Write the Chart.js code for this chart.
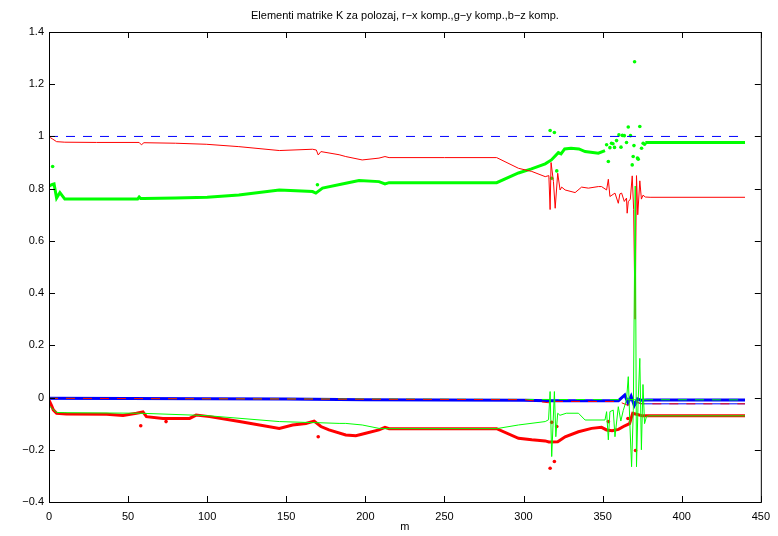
<!DOCTYPE html>
<html>
<head>
<meta charset="utf-8">
<script src="https://cdn.jsdelivr.net/npm/chart.js@4"></script>
<style>
  html, body { margin: 0; padding: 0; background: #fff; }
  #wrap { width: 778px; height: 536px; }
</style>
</head>
<body>
<div id="wrap"><canvas id="kChart" width="778" height="536"></canvas></div>
<script>
const TITLE = "Elementi matrike K za polozaj, r\u2212x komp.,g\u2212y komp.,b\u2212z komp.";
const X_LABEL = "m";
const xTicks = [0, 50, 100, 150, 200, 250, 300, 350, 400, 450];
const yTicks = [-0.4, -0.2, 0, 0.2, 0.4, 0.6, 0.8, 1, 1.2, 1.4];

// red solid (top)
const redLineX = [0, 1, 2.3, 4.8, 10, 30, 57, 58.4, 60, 80, 99.4, 120, 145.6, 166.6, 169, 170.2, 171.9, 183.4, 187.6, 198, 208.6, 212.4, 215, 250, 283, 296.8, 305.2, 313.7, 316, 316.8, 317.4, 318.9, 320, 321.6, 323.1, 324.1, 326.3, 332.6, 336.7, 341, 347.3, 349.3, 352.5, 353.6, 354.6, 357.8, 359.9, 360.9, 362, 363.7, 365.1, 365.5, 366.2, 367.5, 368.7, 369.6, 370.5, 371.4, 372.2, 373.5, 374.5, 375.5, 377, 380, 440];
const redLineY = [1.0, 0.995, 0.99, 0.98, 0.978, 0.977, 0.977, 0.968, 0.976, 0.974, 0.970, 0.961, 0.946, 0.951, 0.948, 0.929, 0.942, 0.93, 0.923, 0.910, 0.917, 0.923, 0.919, 0.919, 0.919, 0.878, 0.866, 0.846, 0.85, 0.72, 0.90, 0.827, 0.725, 0.859, 0.795, 0.806, 0.795, 0.785, 0.806, 0.802, 0.808, 0.808, 0.795, 0.836, 0.77, 0.783, 0.744, 0.78, 0.783, 0.751, 0.764, 0.706, 0.75, 0.76, 0.849, 0.72, 0.30, 0.85, 0.70, 0.83, 0.76, 0.775, 0.768, 0.767, 0.767];

// green dots (top)
const greenDotX = [0, 1.7, 3.2, 4.8, 6.9, 10, 30, 56, 57, 58, 60, 80, 100, 120, 145.6, 166.6, 168.7, 172.9, 187.6, 196, 208.6, 212.4, 215, 283, 296.8, 305, 313.7, 317.6, 322, 323.7, 326, 330, 335, 338.9, 347.3, 351.5];
const greenDotY = [0.81, 0.815, 0.818, 0.764, 0.785, 0.76, 0.76, 0.76, 0.768, 0.762, 0.762, 0.764, 0.767, 0.776, 0.795, 0.789, 0.783, 0.802, 0.821, 0.831, 0.827, 0.818, 0.823, 0.823, 0.86, 0.876, 0.895, 0.91, 0.938, 0.933, 0.952, 0.955, 0.952, 0.942, 0.936, 0.946];
const greenFlatX = [377, 440];
const greenFlatY = [0.977, 0.977];
const greenOutX = [2.3, 169.7, 316.8, 319.5, 317.8, 321, 352.5, 353.6, 354.6, 355.6, 356.5, 357.5, 358.8, 360.3, 361.6, 362.5, 363.7, 365.1, 366.2, 367.6, 368.7, 369.3, 369.8, 370.2, 372, 372.5, 373.5, 374.6, 375.6, 376.5];
const greenOutY = [0.885, 0.815, 1.023, 1.015, 0.84, 0.868, 0.968, 0.904, 0.957, 0.974, 0.972, 0.958, 0.984, 1.006, 0.959, 1.004, 1.003, 0.977, 1.036, 1.003, 0.891, 0.923, 0.965, 1.286, 0.917, 0.913, 1.038, 0.955, 0.974, 0.97];

// blue dashed (top)
const blueDashX = [0, 440];
const blueDashY = [1.0, 1.0];

// green solid (bottom)
const greenLineX = [0, 1.7, 4.8, 10, 57.4, 99.4, 145.6, 166.6, 168.7, 183.4, 187.6, 198, 208.6, 212.4, 283, 296.8, 313.7, 315.8, 316.8, 317.8, 319.5, 320.4, 321.6, 323, 327, 334.7, 338.9, 351.5, 352.5, 353.6, 354.6, 356.7, 357.8, 359.9, 361.5, 363, 365.1, 366.2, 367.2, 368.3, 369.4, 370.6, 371.4, 372.4, 373.5, 374.5, 375.5, 376.5, 377.7, 379, 440];
const greenLineY = [-0.03, -0.041, -0.057, -0.058, -0.06, -0.069, -0.092, -0.096, -0.096, -0.099, -0.099, -0.105, -0.118, -0.119, -0.119, -0.105, -0.092, -0.085, 0.023, -0.226, 0.023, -0.15, -0.06, -0.068, -0.06, -0.06, -0.086, -0.086, -0.054, -0.162, -0.054, -0.048, -0.15, -0.035, -0.09, -0.05, -0.009, 0.08, -0.1, -0.265, -0.05, 0.81, -0.265, -0.02, 0.15, -0.2, 0.05, -0.1, -0.073, -0.07, -0.07];

// red dots (bottom)
const redDotX = [0, 1.7, 2.7, 4.8, 11, 36.4, 46.8, 55.3, 59.4, 61.6, 72, 88.9, 93, 101.5, 120.4, 145.6, 154, 162.4, 167.6, 171.9, 177, 187.6, 194, 200.2, 208.6, 212.4, 215, 283, 296.8, 305.2, 313.7, 316, 321.6, 326.3, 334.7, 343, 349.3, 352.5, 356, 360, 364, 367, 369, 372, 375, 440];
const redDotY = [-0.01, -0.032, -0.047, -0.06, -0.063, -0.064, -0.069, -0.06, -0.055, -0.073, -0.08, -0.08, -0.067, -0.073, -0.092, -0.118, -0.105, -0.099, -0.09, -0.111, -0.124, -0.143, -0.146, -0.137, -0.124, -0.114, -0.119, -0.119, -0.156, -0.162, -0.166, -0.17, -0.169, -0.15, -0.131, -0.118, -0.114, -0.124, -0.127, -0.122, -0.108, -0.1, -0.06, -0.065, -0.07, -0.07];
const redOutX = [58, 74, 170.2, 316.8, 317.8, 319.5, 321, 353.6, 366, 370.8];
const redOutY = [-0.108, -0.092, -0.15, -0.271, -0.095, -0.245, -0.111, -0.092, -0.08, -0.203];

// near zero: blue dots, blue solid, red dashed, green dashed
const blueDotX = [0, 50, 100, 150, 200, 250, 300, 315, 320, 340, 360, 364, 366, 368, 370, 372, 374, 378, 440];
const blueDotY = [-0.003, -0.004, -0.005, -0.006, -0.008, -0.009, -0.01, -0.012, -0.012, -0.012, -0.012, 0.01, -0.02, 0.005, -0.03, -0.005, -0.01, -0.009, -0.009];
const blueLineX = [0, 300, 360, 364, 366, 368, 370, 372, 376, 440];
const blueLineY = [-0.005, -0.01, -0.012, 0.012, -0.025, 0.0, -0.035, -0.02, -0.024, -0.024];
const redDashX = [0, 300, 316, 318, 320, 360, 366, 370, 374, 440];
const redDashY = [-0.003, -0.008, -0.02, 0.0, -0.015, -0.015, -0.03, -0.01, -0.024, -0.024];
const greenDashX = [0, 440];
const greenDashY = [-0.003, -0.009];

const RED = "#ff0000", GREEN = "#00ff00", BLUE = "#0000ff";

function pts(xs, ys) {
  return xs.map((x, i) => ({ x: x, y: ys[i] }));
}

function lineSet(xs, ys, color, width, dash) {
  return {
    data: pts(xs, ys),
    borderColor: color,
    borderWidth: width,
    borderDash: dash || [],
    pointRadius: 0,
    showLine: true,
    fill: false,
    tension: 0,
  };
}

function dotSet(xs, ys, color) {
  return {
    data: pts(xs, ys),
    borderColor: color,
    backgroundColor: color,
    pointRadius: 1.8,
    pointBorderWidth: 0,
    showLine: false,
  };
}

// first dataset is drawn on top
const datasets = [
  lineSet(greenLineX, greenLineY, GREEN, 1),
  lineSet(redDashX, redDashY, RED, 1, [9, 8]),
  lineSet(greenDashX, greenDashY, GREEN, 1, [9, 8]),
  lineSet(blueLineX, blueLineY, BLUE, 1),
  lineSet(blueDashX, blueDashY, BLUE, 1, [9, 8]),
  lineSet(redLineX, redLineY, RED, 1),
  dotSet(greenOutX, greenOutY, GREEN),
  lineSet(greenDotX, greenDotY, GREEN, 3),
  lineSet(greenFlatX, greenFlatY, GREEN, 3),
  dotSet(redOutX, redOutY, RED),
  lineSet(redDotX, redDotY, RED, 3),
  lineSet(blueDotX, blueDotY, BLUE, 3),
];

// frame, inward ticks and title like matlab
const framePlugin = {
  id: "frame",
  afterDraw(chart) {
    const { ctx, chartArea: a, scales } = chart;
    ctx.save();
    ctx.strokeStyle = "#000";
    ctx.lineWidth = 1;
    ctx.strokeRect(a.left + 0.5, a.top + 0.5, a.right - a.left, a.bottom - a.top);
    ctx.beginPath();
    xTicks.forEach((v) => {
      const px = Math.round(scales.x.getPixelForValue(v)) + 0.5;
      ctx.moveTo(px, a.bottom); ctx.lineTo(px, a.bottom - 6);
      ctx.moveTo(px, a.top); ctx.lineTo(px, a.top + 6);
    });
    yTicks.forEach((v) => {
      const py = Math.round(scales.y.getPixelForValue(v)) + 0.5;
      ctx.moveTo(a.left, py); ctx.lineTo(a.left + 6, py);
      ctx.moveTo(a.right, py); ctx.lineTo(a.right - 6, py);
    });
    ctx.stroke();
    ctx.fillStyle = "#000";
    ctx.font = "11px 'Liberation Sans', Arial, sans-serif";
    ctx.textAlign = "center";
    ctx.textBaseline = "middle";
    ctx.fillText(TITLE, (a.left + a.right) / 2, 16);
    ctx.restore();
  },
};

const fmt = (v) => {
  const s = String(Math.round(v * 10) / 10);
  return s.replace("-", "\u2212");
};

new Chart(document.getElementById("kChart"), {
  type: "scatter",
  data: { datasets: datasets },
  options: {
    responsive: false,
    animation: false,
    layout: { padding: { top: 32, right: 16, left: 0, bottom: 0 } },
    plugins: {
      legend: { display: false },
      tooltip: { enabled: false },
    },
    scales: {
      x: {
        type: "linear",
        min: 0,
        max: 450,
        afterFit: (s) => { s.height = 34; },
        afterBuildTicks: (s) => { s.ticks = xTicks.map((v) => ({ value: v })); },
        grid: { display: false, drawTicks: false },
        border: { display: false },
        ticks: {
          padding: 8,
          color: "#000",
          font: { family: "'Liberation Sans', Arial, sans-serif", size: 11 },
          maxRotation: 0,
          callback: (v) => fmt(v),
        },
        title: {
          display: true,
          text: X_LABEL,
          color: "#000",
          padding: { top: 0, bottom: 2 },
          font: { family: "'Liberation Sans', Arial, sans-serif", size: 11 },
        },
      },
      y: {
        type: "linear",
        min: -0.4,
        max: 1.4,
        afterFit: (s) => { s.width = 49; },
        afterBuildTicks: (s) => { s.ticks = yTicks.map((v) => ({ value: v })); },
        grid: { display: false, drawTicks: false },
        border: { display: false },
        ticks: {
          padding: 5,
          color: "#000",
          font: { family: "'Liberation Sans', Arial, sans-serif", size: 11 },
          callback: (v) => fmt(v),
        },
      },
    },
  },
  plugins: [framePlugin],
});
</script>
</body>
</html>
